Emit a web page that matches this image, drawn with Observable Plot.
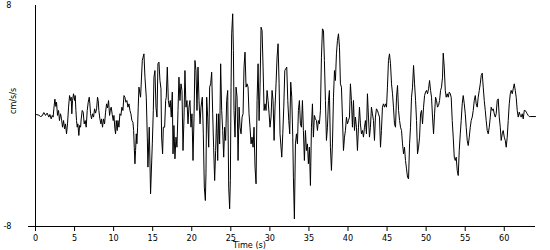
<!DOCTYPE html>
<html>
<head>
<meta charset="utf-8">
<script src="https://cdn.jsdelivr.net/npm/d3@7"></script>
<script src="https://cdn.jsdelivr.net/npm/@observablehq/plot@0.6"></script>
<style>
  html, body { margin: 0; padding: 0; background: #fff; }
  #chart svg { display: block; }
</style>
</head>
<body>
<div id="chart"></div>
<script>
// Time (s) / acceleration (cm/s/s) pairs read from the record
const trace = [
[0,0.1],[0.09,0.11],[0.43,0.06],[0.64,-0.04],[0.85,0.01],[1.07,0.25],[1.28,0.04],[1.49,0.21],[1.71,-0.08],[1.84,0.11],
[2.01,-0.21],[2.14,0.04],[2.26,-0.08],[2.35,0.52],[2.48,1.22],[2.61,0.69],[2.69,1.0],[2.82,0.04],[2.95,0.4],[3.07,-0.33],
[3.2,0.16],[3.33,-0.21],[3.46,-0.81],[3.59,-0.33],[3.72,-0.93],[3.84,-0.57],[3.97,-1.29],[4.1,-0.57],[4.23,0.64],[4.36,1.48],
[4.48,1.12],[4.57,1.36],[4.65,0.16],[4.74,1.12],[4.87,1.61],[5.0,1.12],[5.08,1.48],[5.17,0.4],[5.25,-0.33],[5.34,-0.81],
[5.42,-0.57],[5.55,-1.41],[5.64,-0.69],[5.77,-0.81],[5.85,-0.21],[5.98,0.4],[6.11,0.28],[6.23,-0.57],[6.36,-0.33],[6.49,-0.81],
[6.62,0.4],[6.75,1.0],[6.88,1.36],[6.96,0.88],[7.05,0.16],[7.17,-0.21],[7.3,0.16],[7.43,-0.08],[7.56,0.52],[7.69,0.21],
[7.82,0.52],[7.94,1.36],[8.03,1.12],[8.11,0.4],[8.24,-0.21],[8.37,-0.57],[8.46,-0.21],[8.58,-0.81],[8.71,-0.21],[8.84,-0.57],
[8.97,0.28],[9.1,0.88],[9.22,0.59],[9.35,1.12],[9.48,0.04],[9.57,0.4],[9.69,0.64],[9.82,0.11],[9.95,-0.33],[10.04,0.04],
[10.16,-0.93],[10.25,-1.29],[10.34,-0.33],[10.46,-1.05],[10.55,-0.33],[10.68,-0.81],[10.8,0.16],[10.93,0.04],[11.06,0.64],[11.19,0.4],
[11.32,1.48],[11.44,1.36],[11.57,1.0],[11.7,1.12],[11.83,0.64],[11.96,0.88],[12.09,0.4],[12.21,0.16],[12.34,-0.33],[12.47,-0.45],
[12.56,-1.05],[12.64,-2.26],[12.73,-3.46],[12.81,-2.5],[12.9,-1.29],[12.98,-2.01],[13.07,-0.81],[13.15,0.64],[13.24,2.09],
[13.45,1.36],[13.67,4.02],[13.88,4.5],[14.01,2.81],[14.18,1.36],[14.31,-1.53],[14.39,-3.7],[14.56,-0.81],[14.73,-5.63],
[14.95,-2.02],[15.08,0.4],[15.16,2.81],[15.29,3.29],[15.42,0.64],[15.55,-0.08],[15.67,3.78],[15.8,3.9],[15.93,2.57],[16.06,1.97],
[16.14,-1.53],[16.27,-2.74],[16.36,-0.81],[16.53,-0.81],[16.66,1.12],[16.74,1.36],[16.87,3.54],[17.0,1.12],[17.13,0.64],[17.25,1.12],
[17.38,-0.08],[17.51,1.73],[17.6,-2.74],[17.72,-0.69],[17.85,-3.1],[17.98,-1.53],[18.11,-2.26],[18.24,0.4],[18.36,2.81],[18.49,1.12],
[18.62,2.33],[18.75,1.85],[18.88,-2.5],[19.01,-0.08],[19.13,3.29],[19.26,0.64],[19.39,1.12],[19.52,-0.57],[19.64,0.64],[19.77,1.12],
[19.9,-0.81],[20.03,0.16],[20.16,-3.22],[20.29,-0.08],[20.41,4.02],[20.54,3.29],[20.67,0.4],[20.8,3.54],[20.93,1.12],[21.06,-0.57],
[21.18,0.64],[21.35,1.36],[21.48,-1.29],[21.61,-5.15],[21.74,-6.12],[21.82,-4.19],[21.91,1.36],[22.04,-0.08],[22.17,-2.26],[22.29,2.09],
[22.42,2.33],[22.55,3.17],[22.68,0.16],[22.8,-2.26],[22.93,-4.67],[23.06,-2.5],[23.19,0.16],[23.32,-3.22],[23.44,0.16],[23.57,-2.02],
[23.7,3.78],[23.83,0.4],[23.96,-1.05],[24.09,-2.98],[24.21,-0.81],[24.34,-1.77],[24.47,1.12],[24.6,1.85],[24.73,-5.15],[24.85,-6.72],
[24.94,-4.67],[25.03,2.09],[25.11,5.95],[25.24,7.4],[25.33,4.74],[25.41,0.4],[25.54,-1.53],[25.67,2.09],[25.8,1.36],[25.93,-3.22],
[26.06,0.64],[26.18,-0.81],[26.31,-1.29],[26.44,-0.08],[26.57,0.16],[26.69,3.54],[26.82,4.62],[26.95,2.09],[27.08,2.33],[27.21,2.09],
[27.33,0.16],[27.46,-0.81],[27.59,-2.02],[27.72,-1.53],[27.85,-2.26],[27.97,-0.81],[28.1,-3.7],[28.23,-4.91],[28.36,1.12],[28.49,3.78],
[28.62,-0.33],[28.74,2.09],[28.87,6.43],[29.0,6.19],[29.13,3.54],[29.26,0.4],[29.38,0.88],[29.51,0.4],[29.64,1.85],[29.77,1.12],
[29.9,0.16],[30.02,-0.81],[30.15,-0.08],[30.28,1.85],[30.41,1.12],[30.54,-1.77],[30.66,0.64],[30.79,2.33],[30.92,4.26],[31.05,5.23],
[31.18,2.33],[31.3,-1.29],
[31.52,-2.98],[31.65,-1.29],[31.78,0.64],[31.91,3.29],[32.03,3.42],[32.16,3.54],[32.29,1.12],[32.42,-0.33],[32.54,-1.29],[32.67,2.45],
[32.8,1.36],[32.93,-1.53],[33.01,-4.43],[33.14,-7.45],[33.27,-2.02],[33.4,-1.29],[33.53,-2.02],[33.65,0.4],[33.78,1.12],[33.91,-0.57],
[34.04,-0.81],[34.17,1.12],[34.29,-1.05],[34.42,-3.22],[34.55,-1.05],[34.68,-2.5],[34.81,-2.02],[34.93,-3.46],[35.06,-2.26],[35.19,-5.03],
[35.32,-0.81],[35.45,0.88],[35.57,-1.53],[35.7,0.04],[35.83,-0.21],[35.96,-0.33],[36.09,-1.05],[36.21,-0.33],[36.34,-0.57],[36.47,0.4],
[36.6,4.26],[36.73,6.31],[36.86,6.19],[36.98,4.02],[37.11,1.12],[37.24,-1.77],[37.37,-0.81],[37.5,1.12],[37.62,1.85],[37.75,-2.26],
[37.88,-3.94],[38.01,-2.02],[38.14,1.36],[38.27,3.29],[38.39,2.57],[38.52,4.5],[38.65,5.47],[38.78,5.95],[38.91,4.98],[39.03,2.33],
[39.16,2.09],[39.29,-0.08],[39.42,-2.5],[39.55,-1.53],[39.67,-1.05],[39.8,-0.08],[39.93,-0.57],[40.06,-0.33],[40.19,-0.08],[40.31,2.33],
[40.44,1.12],[40.57,-0.81],[40.7,1.12],[40.83,-1.05],[40.95,-0.08],[41.08,-0.81],[41.21,-2.5],[41.34,-0.81],[41.47,0.64],[41.59,-0.57],
[41.72,-1.29],[41.85,-1.05],[41.98,-1.53],[42.11,-0.81],[42.23,-0.33],[42.36,-1.29],[42.49,1.61],[42.62,-0.08],[42.75,-1.53],[42.87,-0.81],
[43.0,0.64],[43.13,0.16],[43.26,-0.33],[43.39,-1.77],[43.51,-0.08],[43.64,0.52],[43.77,0.4],[43.9,0.16],[44.03,-0.08],[44.16,-2.26],
[44.28,-1.05],[44.41,0.64],[44.54,0.88],[44.67,0.64],[44.8,0.88],[44.93,0.64],[45.05,2.09],[45.18,4.02],[45.31,4.5],[45.44,3.78],
[45.57,2.33],[45.7,1.61],[45.82,0.64],[45.95,-0.57],[46.08,-0.81],[46.21,1.36],[46.34,2.21],
[46.47,0.4],[46.6,-0.33],[46.72,-0.81],[46.85,-1.05],[46.98,-2.02],[47.11,-2.74],[47.23,-2.26],[47.36,-3.22],[47.49,-3.83],[47.62,-4.43],
[47.75,-4.55],[47.88,-2.02],[48.0,-0.81],[48.13,1.36],[48.26,2.09],[48.39,3.66],[48.52,2.33],[48.65,1.12],[48.77,-0.33],[48.9,-2.74],
[49.03,-2.26],[49.16,-1.53],[49.29,0.16],[49.41,0.4],[49.54,-0.57],[49.67,0.64],[49.8,1.48],[49.93,1.73],[50.05,1.85],[50.18,1.61],
[50.31,1.97],[50.44,2.57],[50.57,1.85],[50.69,1.36],[50.82,-0.08],[50.95,-1.29],[51.08,0.16],[51.21,1.36],[51.33,1.12],[51.46,0.64],
[51.59,0.76],[51.72,1.12],[51.85,1.85],[51.97,2.09],[52.1,2.81],[52.19,4.55],[52.32,3.54],[52.45,1.85],[52.57,1.36],[52.7,1.61],
[52.83,1.36],[52.96,1.73],[53.09,1.61],[53.21,1.36],[53.34,-0.33],[53.47,-1.53],[53.6,-2.98],[53.73,-3.22],[53.85,-2.98],[53.98,-3.94],
[54.11,-4.31],[54.24,-2.5],[54.37,-1.29],[54.49,-0.33],[54.62,0.88],[54.75,1.48],[54.88,0.88],[55.01,0.16],[55.13,-0.81],[55.26,-1.77],
[55.39,-2.14],[55.52,-1.53],[55.65,-0.81],[55.77,-0.33],[55.9,-0.08],[56.03,0.4],[56.16,1.12],[56.29,1.48],[56.41,0.88],[56.54,0.64],
[56.67,1.36],[56.8,1.85],[56.93,2.33],[57.05,2.93],[57.18,3.1],[57.31,2.09],[57.44,1.12],[57.57,0.4],[57.69,-0.33],[57.82,-1.05],
[57.95,-1.29],[58.08,-0.81],[58.21,-0.08],[58.33,0.64],[58.46,0.4],[58.59,0.52],[58.72,0.16],[58.85,-0.08],[58.97,0.16],[59.1,1.12],
[59.23,1.24],[59.36,-0.08],[59.49,-0.81],[59.61,-1.77],[59.74,-1.29],[59.87,-1.05],[60.0,-1.53],[60.13,-1.77],[60.25,-2.26],[60.38,-1.53],
[60.51,-0.33],[60.64,0.88],[60.77,1.61],[60.89,1.85],[61.02,1.61],[61.15,1.97],[61.28,2.33],[61.41,1.85],[61.53,1.36],[61.66,0.4],
[61.79,-0.08],[61.92,0.28],[62.05,0.04],[62.17,-0.08],[62.3,0.16],[62.43,-0.21],[62.56,0.4],[62.69,0.4],[62.82,0.28],[62.94,0.16],
[63.07,0.04],[63.2,-0.04],[63.41,-0.04],[64.0,-0.04]
];
const xTicks = [0, 5, 10, 15, 20, 25, 30, 35, 40, 45, 50, 55, 60];
const yTicks = [-8, 8];
const xTitle = "Time (s)";
const yTitle = "cm/s/s";

const data = trace.map(([t, a]) => ({t, a}));
const plain = (d) => String(d);

const chart = Plot.plot({
  width: 550,
  height: 250,
  marginLeft: 35,
  marginRight: 15,
  marginTop: 5,
  marginBottom: 24,
  x: {domain: [0, 64]},
  y: {domain: [-8, 8]},
  style: {fontFamily: "'Liberation Sans Narrow', 'DejaVu Sans Condensed', 'Liberation Sans', Arial, sans-serif", fontSize: "9px", color: "#000", background: "#fff"},
  marks: [
    Plot.axisX({ticks: xTicks, tickSize: 5, tickPadding: 3, tickFormat: plain, label: null, stroke: "#000"}),
    Plot.axisY({ticks: [yTicks[0]], tickSize: 7, tickFormat: () => "", label: null, stroke: "#000"}),
    Plot.axisY({ticks: yTicks, tickSize: 0, tickPadding: 24, tickFormat: plain, label: null}),
    Plot.ruleX([0], {stroke: "#000"}),
    Plot.ruleY([yTicks[0]], {stroke: "#000"}),
    Plot.line(data, {x: "t", y: "a", stroke: "#000", strokeWidth: 1}),
    Plot.text([xTitle], {frameAnchor: "bottom", dx: -36, dy: 15.5, lineAnchor: "top", fill: "#000"}),
    Plot.text([yTitle], {frameAnchor: "left", dx: -22, dy: -2, rotate: -90, lineAnchor: "middle", fill: "#000"})
  ]
});
document.getElementById("chart").append(chart);
</script>
</body>
</html>
